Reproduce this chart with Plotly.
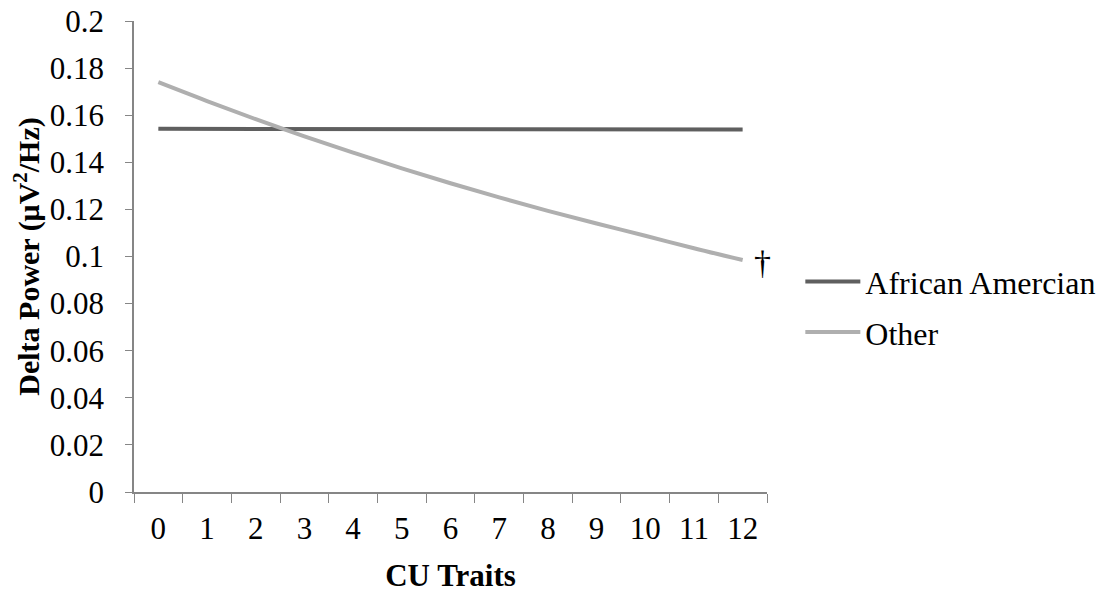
import plotly.graph_objects as go

cu_traits = ["0", "1", "2", "3", "4", "5", "6", "7", "8", "9", "10", "11", "12"]
african_american = [0.1542, 0.1542, 0.1542, 0.1541, 0.1541, 0.1541, 0.1541, 0.1540, 0.1540, 0.1540, 0.1540, 0.1539, 0.1539]
other = [0.1740, 0.1660, 0.1583, 0.1510, 0.1441, 0.1374, 0.1311, 0.1251, 0.1194, 0.1140, 0.1088, 0.1035, 0.0985]
y_ticks = [0, 0.02, 0.04, 0.06, 0.08, 0.1, 0.12, 0.14, 0.16, 0.18, 0.2]
y_tick_labels = ["0", "0.02", "0.04", "0.06", "0.08", "0.1", "0.12", "0.14", "0.16", "0.18", "0.2"]

FONT = "Liberation Serif"
AXIS_COLOR = "#868686"
FS = 31

fig = go.Figure()
fig.add_trace(go.Scatter(x=cu_traits, y=african_american, mode="lines", name="African Amercian",
                         line=dict(color="#5f5f5f", width=4), legendgroup="a"))
fig.add_trace(go.Scatter(x=cu_traits, y=other, mode="lines", name="Other",
                         line=dict(color="#afafaf", width=4, shape="spline"), legendgroup="b"))

fig.add_annotation(x=cu_traits[-1], y=other[-1], text="†", showarrow=False,
                   xshift=20, yshift=-2, font=dict(family=FONT, size=34, color="black"))

fig.update_layout(
    width=1112, height=595,
    margin=dict(l=134, r=344, t=21, b=103),
    paper_bgcolor="white", plot_bgcolor="white",
    font=dict(family=FONT, size=FS, color="black"),
    showlegend=True,
    legend=dict(x=1.051, y=0.505, xanchor="left", yanchor="top",
                font=dict(family=FONT, size=32), tracegroupgap=6,
                itemwidth=55, bgcolor="rgba(0,0,0,0)"),
    xaxis=dict(type="category", range=[-0.5, 12.5], tickson="boundaries", ticks="outside", ticklen=9,
               tickcolor=AXIS_COLOR, showline=True, linecolor=AXIS_COLOR, linewidth=1.5,
               showgrid=False, zeroline=False, ticklabelstandoff=8, automargin=False,
               title=dict(text="<b>CU Traits</b>", font=dict(family=FONT, size=FS), standoff=19)),
    yaxis=dict(range=[0, 0.2], tickvals=y_ticks, ticktext=y_tick_labels, ticks="outside", ticklen=7,
               tickcolor=AXIS_COLOR, showline=True, linecolor=AXIS_COLOR, linewidth=1.5,
               showgrid=False, zeroline=False, ticklabelstandoff=15, automargin=False,
               ticklabeloverflow="allow",
               title=dict(text="<b>Delta Power (μV<sup>2</sup>/Hz)</b>", font=dict(family=FONT, size=30), standoff=1)),
)

# remove the browser's default 8px body margin so the figure fills the window exactly
fig.write_html("out.html", config={"displayModeBar": False},
               post_script="document.body.style.margin='0';document.body.style.overflow='hidden';")
